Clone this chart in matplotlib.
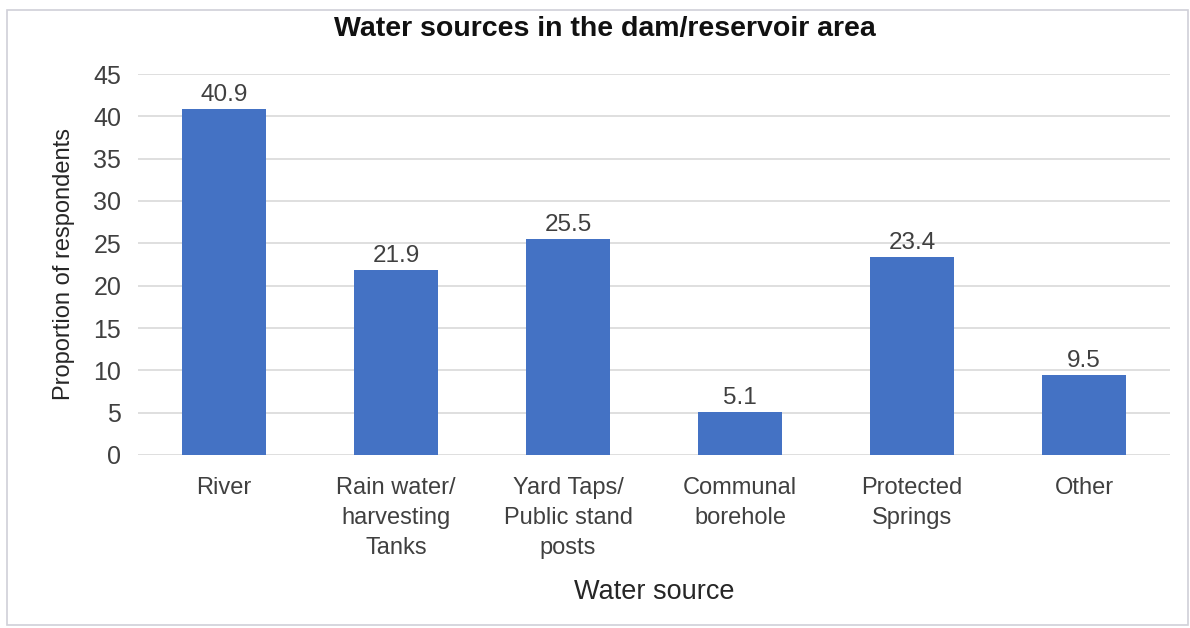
import matplotlib
matplotlib.use("Agg")
import matplotlib.pyplot as plt
from matplotlib.patches import Rectangle

categories = ["River", "Rain water/\nharvesting\nTanks", "Yard Taps/\nPublic stand\nposts",
              "Communal\nborehole", "Protected\nSprings", "Other"]
values = [40.9, 21.9, 25.5, 5.1, 23.4, 9.5]
yticks = [0, 5, 10, 15, 20, 25, 30, 35, 40, 45]

plt.rcParams['font.family'] = ['Liberation Sans', 'DejaVu Sans']

fig = plt.figure(figsize=(11.9, 6.28), dpi=100)
fig.patches.append(Rectangle((7 / 1190, 0.005), 1181 / 1190, 1 - 10 / 628 - 0.005,
                             transform=fig.transFigure, fill=False,
                             edgecolor="#d0d0d8", linewidth=1.2))

ax = fig.add_axes([138 / 1190, 1 - 455 / 628, (1170 - 138) / 1190, (455 - 74) / 628])
x = range(len(categories))
bars = ax.bar(x, values, width=0.49, color="#4472C4", zorder=3)
for b, v in zip(bars, values):
    ax.text(b.get_x() + b.get_width() / 2, v + 0.35, f"{v}", ha="center", va="bottom",
            fontsize=17.5, color="#404040")

ax.set_xlim(-0.5, len(categories) - 0.5)
ax.set_ylim(0, 45)
ax.set_yticks(yticks)
ax.set_xticks(list(x))
ax.set_xticklabels(categories, fontsize=17, color="#404040", linespacing=1.45)
ax.tick_params(axis="y", labelsize=18, labelcolor="#404040", length=0, pad=12)
ax.tick_params(axis="x", length=0, pad=16)
ax.grid(axis="y", color="#d9d9d9", linewidth=1.2, zorder=0)
for s in ax.spines.values():
    s.set_visible(False)

ax.set_ylabel("Proportion of respondents", fontsize=17, color="#262626")
ax.yaxis.set_label_coords(-0.061, 0.5)
ax.set_xlabel("Water source", fontsize=19.5, color="#262626")
ax.xaxis.set_label_coords(0.5, -0.325)
fig.text(605 / 1190, 1 - 29 / 628, "Water sources in the dam/reservoir area",
         ha="center", va="center", fontsize=20.5, fontweight="bold", color="#111111")

fig.savefig("out.png", dpi=100, facecolor="white")
